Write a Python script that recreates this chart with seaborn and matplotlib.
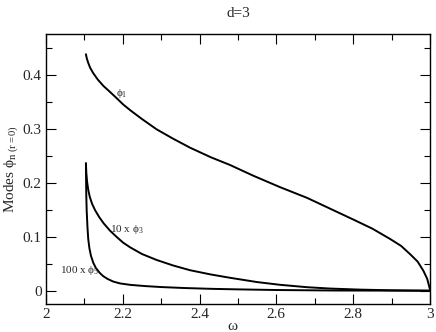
import matplotlib
matplotlib.use("Agg")
import matplotlib.pyplot as plt
import seaborn as sns
import pandas as pd

# frequency / mode amplitude (d=3)
omega_1 = [2.104, 2.106, 2.110, 2.115, 2.123, 2.135, 2.150, 2.167, 2.185, 2.201, 2.220,
           2.250, 2.288, 2.330, 2.375, 2.430, 2.479, 2.540, 2.609, 2.680, 2.740,
           2.800, 2.850, 2.896, 2.925, 2.948, 2.968, 2.983, 2.993, 3.000]
phi_1 = [0.438, 0.431, 0.422, 0.413, 0.403, 0.391, 0.379, 0.368, 0.356, 0.345, 0.334,
         0.318, 0.299, 0.282, 0.265, 0.247, 0.233, 0.213, 0.192, 0.172, 0.152,
         0.132, 0.115, 0.096, 0.083, 0.068, 0.054, 0.037, 0.022, 0.003]

omega_3 = [2.104, 2.105, 2.107, 2.110, 2.114, 2.120, 2.128, 2.138, 2.150, 2.167, 2.185,
           2.201, 2.220, 2.250, 2.288, 2.330, 2.375, 2.430, 2.479, 2.550, 2.609,
           2.680, 2.740, 2.820, 2.900, 3.000]
phi_3 = [0.236, 0.219, 0.202, 0.187, 0.174, 0.161, 0.149, 0.137, 0.125, 0.111, 0.099,
         0.089, 0.080, 0.068, 0.057, 0.047, 0.038, 0.030, 0.024, 0.016, 0.011,
         0.0065, 0.004, 0.002, 0.0008, 0.0]

omega_5 = [2.104, 2.1045, 2.105, 2.106, 2.108, 2.110, 2.113, 2.117, 2.123, 2.130, 2.140,
           2.149, 2.160, 2.175, 2.193, 2.220, 2.260, 2.300, 2.360, 2.430, 2.500,
           2.600, 2.750, 3.000]
phi_5 = [0.236, 0.200, 0.175, 0.148, 0.118, 0.096, 0.079, 0.065, 0.052, 0.042, 0.033,
         0.027, 0.022, 0.017, 0.0135, 0.0108, 0.0085, 0.0068, 0.005, 0.0035, 0.0025,
         0.0013, 0.0004, 0.0]

sns.set_style("ticks")
plt.rcParams["font.family"] = ["Liberation Serif", "DejaVu Serif"]
plt.rcParams["mathtext.fontset"] = "custom"
plt.rcParams["mathtext.rm"] = "Liberation Serif"
plt.rcParams["mathtext.it"] = "Liberation Serif:italic"

fig = plt.figure(figsize=(4.36, 3.32), dpi=100)
ax = fig.add_axes([0.1055, 0.0845, 0.8805, 0.8131])

for w, p in [(omega_1, phi_1), (omega_3, phi_3), (omega_5, phi_5)]:
    df = pd.DataFrame({"omega": w, "phi": p})
    sns.lineplot(data=df, x="omega", y="phi", sort=False, color="black",
                 linewidth=1.4, ax=ax)

ax.set_xlim(2, 3)
ax.set_ylim(-0.0245, 0.4755)
ax.set_xticks([2, 2.2, 2.4, 2.6, 2.8, 3])
ax.set_xticklabels(["2", "2.2", "2.4", "2.6", "2.8", "3"])
ax.set_xticks([2.1, 2.3, 2.5, 2.7, 2.9], minor=True)
ax.set_yticks([0, 0.1, 0.2, 0.3, 0.4])
ax.set_yticklabels(["0", "0.1", "0.2", "0.3", "0.4"])
ax.set_yticks([0.05, 0.15, 0.25, 0.35, 0.45], minor=True)
ax.tick_params(which="both", direction="in", top=True, right=True,
               labelsize=11, width=0.8, color="black")
ax.tick_params(which="major", length=7, pad=3)
ax.tick_params(which="minor", length=4)
for s in ax.spines.values():
    s.set_linewidth(1.0)
    s.set_color("black")

ax.set_xlabel("ω", fontsize=11, labelpad=-1, x=0.485)
ax.set_ylabel(r"Modes $\mathrm{\phi}_{\mathrm{n\ (r=0)}}$", fontsize=11, labelpad=2)
ax.set_title("d=3", fontsize=11, pad=12)

ax.text(2.196, 0.366, r"$\mathrm{\phi}_{\mathrm{1}}$", fontsize=8,
        ha="center", va="center")
ax.text(2.210, 0.114, r"10 x $\mathrm{\phi}_{\mathrm{3}}$", fontsize=8,
        ha="center", va="center")
ax.text(2.088, 0.038, r"100 x $\mathrm{\phi}_{\mathrm{5}}$", fontsize=8,
        ha="center", va="center")

fig.savefig("out.png", dpi=100)
